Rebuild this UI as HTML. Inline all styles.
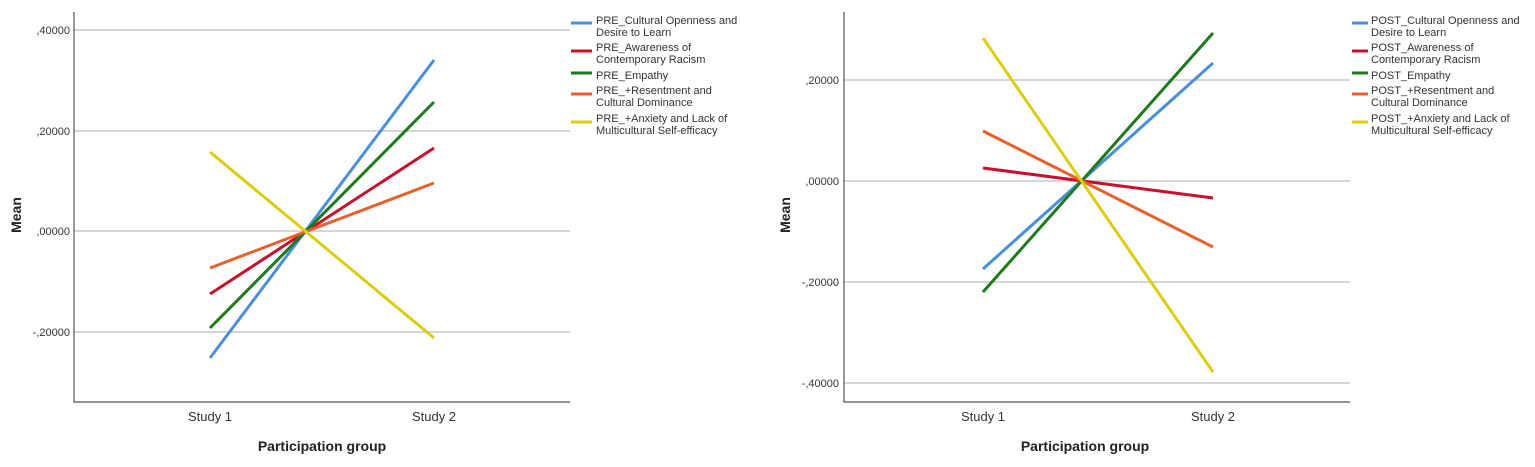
<!DOCTYPE html>
<html><head><style>
body{margin:0;background:#fff;}
svg text{font-family:"Liberation Sans",sans-serif;}
</style></head><body>
<svg width="1535" height="462" viewBox="0 0 1535 462">
<g stroke="#c8c8c8" stroke-width="1.5">
<line x1="74" y1="30" x2="570" y2="30"/><line x1="74" y1="131" x2="570" y2="131"/>
<line x1="74" y1="231" x2="570" y2="231"/><line x1="74" y1="332" x2="570" y2="332"/>
<line x1="844" y1="80" x2="1350" y2="80"/><line x1="844" y1="181" x2="1350" y2="181"/>
<line x1="844" y1="282" x2="1350" y2="282"/><line x1="844" y1="383" x2="1350" y2="383"/>
</g>
<g stroke="#555" stroke-width="1.2" fill="none">
<polyline points="74,12 74,402 570,402"/>
<polyline points="844,12 844,402 1350,402"/>
</g>
<g font-size="11" fill="#333" text-anchor="end">
<text x="70" y="34">,40000</text><text x="70" y="135">,20000</text><text x="70" y="235">,00000</text><text x="70" y="336">-,20000</text>
<text x="839" y="84">,20000</text><text x="839" y="185">,00000</text><text x="839" y="286">-,20000</text><text x="839" y="387">-,40000</text>
</g>
<g font-size="13" fill="#333" text-anchor="middle">
<text x="210" y="421">Study 1</text><text x="434" y="421">Study 2</text>
<text x="983" y="421">Study 1</text><text x="1213" y="421">Study 2</text>
</g>
<g font-size="14" font-weight="bold" fill="#222" text-anchor="middle">
<text x="322" y="451">Participation group</text><text x="1085" y="451">Participation group</text>
<text transform="translate(21,215) rotate(-90)">Mean</text>
<text transform="translate(790,215) rotate(-90)">Mean</text>
</g>
<g stroke-width="3" fill="none">
<line x1="210" y1="358" x2="434" y2="60" stroke="#4a8fdc"/>
<line x1="210" y1="294" x2="434" y2="148" stroke="#c8102e"/>
<line x1="210" y1="328" x2="434" y2="102" stroke="#1d7a1d"/>
<line x1="210" y1="268" x2="434" y2="183" stroke="#e8612c"/>
<line x1="210" y1="152" x2="434" y2="338" stroke="#dccd10"/>
<line x1="983" y1="269" x2="1213" y2="63" stroke="#4a8fdc"/>
<line x1="983" y1="168" x2="1213" y2="198" stroke="#c8102e"/>
<line x1="983" y1="292" x2="1213" y2="33" stroke="#1d7a1d"/>
<line x1="983" y1="131" x2="1213" y2="247" stroke="#e8612c"/>
<line x1="983" y1="38" x2="1213" y2="372" stroke="#dccd10"/>
</g>
<g stroke-width="3">
<line x1="571" y1="23" x2="592" y2="23" stroke="#4a8fdc"/>
<line x1="571" y1="51" x2="592" y2="51" stroke="#c8102e"/>
<line x1="571" y1="73" x2="592" y2="73" stroke="#1d7a1d"/>
<line x1="571" y1="94" x2="592" y2="94" stroke="#e8612c"/>
<line x1="571" y1="122" x2="592" y2="122" stroke="#dccd10"/>
<line x1="1352" y1="23" x2="1368" y2="23" stroke="#4a8fdc"/>
<line x1="1352" y1="51" x2="1368" y2="51" stroke="#c8102e"/>
<line x1="1352" y1="73" x2="1368" y2="73" stroke="#1d7a1d"/>
<line x1="1352" y1="94" x2="1368" y2="94" stroke="#e8612c"/>
<line x1="1352" y1="122" x2="1368" y2="122" stroke="#dccd10"/>
</g>
<g font-size="11" fill="#333">
<text x="596" y="24">PRE_Cultural Openness and</text><text x="596" y="36">Desire to Learn</text>
<text x="596" y="51">PRE_Awareness of</text><text x="596" y="63">Contemporary Racism</text>
<text x="596" y="79">PRE_Empathy</text>
<text x="596" y="94">PRE_+Resentment and</text><text x="596" y="106">Cultural Dominance</text>
<text x="596" y="122">PRE_+Anxiety and Lack of</text><text x="596" y="134">Multicultural Self-efficacy</text>
<text x="1371" y="24">POST_Cultural Openness and</text><text x="1371" y="36">Desire to Learn</text>
<text x="1371" y="51">POST_Awareness of</text><text x="1371" y="63">Contemporary Racism</text>
<text x="1371" y="79">POST_Empathy</text>
<text x="1371" y="94">POST_+Resentment and</text><text x="1371" y="106">Cultural Dominance</text>
<text x="1371" y="122">POST_+Anxiety and Lack of</text><text x="1371" y="134">Multicultural Self-efficacy</text>
</g>
</svg>
</body></html>
